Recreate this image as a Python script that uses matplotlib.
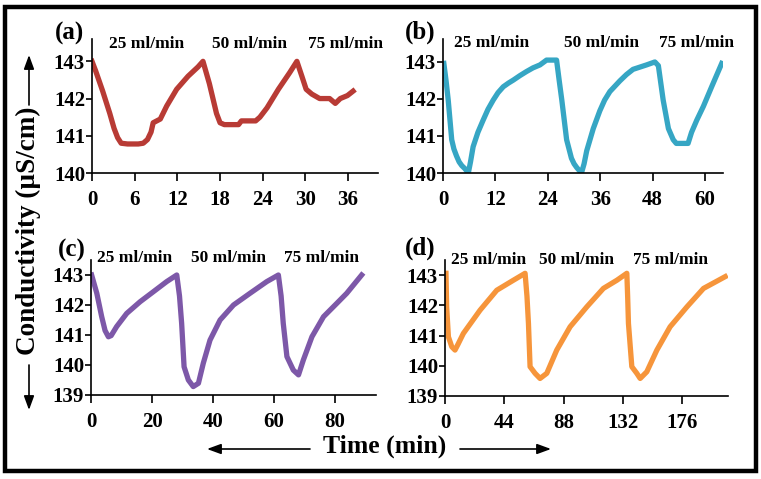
import numpy as np
import matplotlib
matplotlib.use('Agg')
import matplotlib.pyplot as plt
from matplotlib.patches import Rectangle, FancyArrowPatch

plt.rcParams['font.family'] = ['Liberation Serif', 'DejaVu Serif']
plt.rcParams['font.weight'] = 'bold'

flow_labels = ['25 ml/min', '50 ml/min', '75 ml/min']

# (a)
t_a = [0, 0.5, 1.5, 2.5, 3.1, 3.6, 4.1, 5.0, 6.5, 7.2, 7.8, 8.3, 8.6, 9.6, 10.5, 11.9,
       13.5, 14.9, 15.6, 16.5, 17.5, 18.0, 18.6, 20.6, 21.0, 23.0, 23.6, 24.6, 26.2,
       27.8, 28.8, 29.5, 30.1, 30.9, 32.0, 33.4, 34.2, 34.9, 35.9, 36.7]
v_a = [143.0, 142.75, 142.2, 141.6, 141.2, 140.95, 140.8, 140.78, 140.78, 140.8, 140.9,
       141.1, 141.35, 141.45, 141.8, 142.25, 142.6, 142.85, 143.0, 142.4, 141.6, 141.35,
       141.3, 141.3, 141.4, 141.4, 141.5, 141.75, 142.25, 142.7, 143.0, 142.6, 142.25,
       142.12, 142.0, 142.0, 141.87, 142.0, 142.08, 142.2]

# (b)
t_b = [0.2, 0.7, 1.2, 2.0, 2.5, 3.1, 3.7, 4.3, 5.0, 5.8, 6.3, 6.9, 8.0, 9.2, 10.3, 11.5,
       12.6, 13.8, 15.0, 16.1, 17.6, 19.1, 20.6, 22.2, 23.7, 26.0, 26.6, 27.2, 28.3,
       29.4, 30.0, 30.6, 31.7, 32.3, 32.9, 34.4, 35.9, 37.0, 38.2, 40.5, 42.0, 43.5,
       46.6, 48.5, 49.3, 50.4, 51.6, 52.7, 53.4, 56.1, 56.9, 58.1, 59.6, 61.5, 63.8]
v_b = [142.96, 142.5, 141.97, 140.9, 140.65, 140.46, 140.3, 140.2, 140.12, 140.0, 140.3,
       140.71, 141.1, 141.43, 141.72, 141.97, 142.17, 142.33, 142.43, 142.51, 142.63,
       142.74, 142.84, 142.92, 143.05, 143.05, 142.5, 141.97, 140.9, 140.4, 140.25,
       140.15, 140.0, 140.25, 140.6, 141.2, 141.68, 141.97, 142.2, 142.49, 142.66, 142.8,
       142.92, 143.0, 142.9, 141.97, 141.2, 140.9, 140.8, 140.8, 141.1, 141.43, 141.8,
       142.33, 142.96]

# (c)
t_c = [0.2, 1.9, 3.5, 4.6, 5.7, 6.6, 8.4, 11.7, 16.1, 20.4, 24.8, 28.1, 29.0, 29.7,
       30.5, 31.9, 33.5, 35.2, 36.8, 39.0, 42.3, 46.7, 52.1, 57.6, 61.4, 62.3, 63.0,
       64.2, 66.3, 68.0, 69.6, 72.4, 76.2, 80.6, 83.8, 88.7]
v_c = [143.0, 142.39, 141.61, 141.15, 140.94, 140.98, 141.28, 141.72, 142.11, 142.44,
       142.78, 143.0, 142.3, 141.39, 139.94, 139.5, 139.28, 139.39, 140.06, 140.83, 141.5,
       142.0, 142.39, 142.78, 143.0, 142.3, 141.39, 140.28, 139.83, 139.67, 140.17,
       140.94, 141.61, 142.06, 142.39, 143.0]

# (d)
t_d = [0.7, 1.2, 2.5, 5.0, 7.4, 9.5, 13.6, 26.0, 38.4, 50.7, 59.4, 60.8, 61.9, 63.1,
       66.8, 70.5, 75.5, 82.9, 92.8, 105.2, 117.5, 127.5, 134.9, 135.5, 136.1, 138.6,
       142.3, 144.8, 149.7, 157.2, 167.0, 179.5, 191.8, 207.9]
v_d = [143.06, 141.95, 140.96, 140.63, 140.52, 140.7, 141.07, 141.84, 142.5, 142.83,
       143.06, 142.3, 141.4, 139.97, 139.75, 139.58, 139.75, 140.52, 141.29, 141.95,
       142.56, 142.83, 143.06, 142.3, 141.4, 139.97, 139.75, 139.58, 139.8, 140.52,
       141.29, 141.95, 142.56, 142.95]

panels = [
    dict(tag='(a)', t=t_a, v=v_a, color='#b83b35', rect=[0.1209, 0.6388, 0.3758, 0.2798],
         xlim=(0, 40.2), ylim=(140, 143.6), xticks=np.arange(0, 37, 6), yticks=[140, 141, 142, 143],
         lx=[0.192, 0.552, 0.885], ly=0.963, tagpos=(70, 33)),
    dict(tag='(b)', t=t_b, v=v_b, color='#36a6c4', rect=[0.5821, 0.6388, 0.368, 0.2798],
         xlim=(0, 64.1), ylim=(140, 143.62), xticks=np.arange(0, 61, 12), yticks=[140, 141, 142, 143],
         lx=[0.174, 0.567, 0.906], ly=0.97, tagpos=(420, 32)),
    dict(tag='(c)', t=t_c, v=v_c, color='#7d58a8', rect=[0.1196, 0.1754, 0.3745, 0.2818],
         xlim=(0, 93.4), ylim=(139, 143.5), xticks=np.arange(0, 81, 20), yticks=[139, 140, 141, 142, 143],
         lx=[0.154, 0.482, 0.81], ly=1.013, tagpos=(72, 250)),
    dict(tag='(d)', t=t_d, v=v_d, color='#f6953b', rect=[0.5848, 0.1733, 0.3719, 0.2839],
         xlim=(0, 210), ylim=(139, 143.5), xticks=np.arange(0, 177, 44), yticks=[139, 140, 141, 142, 143],
         lx=[0.153, 0.465, 0.795], ly=1.0, tagpos=(420, 248)),
]

W, H = 761, 479
fig = plt.figure(figsize=(W / 100, H / 100), dpi=100)

for p in panels:
    ax = fig.add_axes(p['rect'])
    ax.plot(p['t'], p['v'], color=p['color'], lw=3.8, solid_joinstyle='round')
    ax.set_xlim(*p['xlim'])
    ax.set_ylim(*p['ylim'])
    ax.set_xticks(p['xticks'])
    ax.set_yticks(p['yticks'])
    for s in ['top', 'right']:
        ax.spines[s].set_visible(False)
    for s in ['left', 'bottom']:
        ax.spines[s].set_linewidth(1.2)
    ax.tick_params(axis='x', length=6, width=1.2, pad=6, labelsize=15)
    ax.tick_params(axis='y', length=4, width=1.2, pad=1, labelsize=15)
    for lab in ax.get_xticklabels() + ax.get_yticklabels():
        lab.set_fontweight('bold')
    for txt, x in zip(flow_labels, p['lx']):
        ax.text(x, p['ly'], txt, transform=ax.transAxes, ha='center', va='center',
                fontsize=12.5, fontweight='bold', clip_on=False)
    fig.text(p['tagpos'][0] / W, 1 - p['tagpos'][1] / H, p['tag'], ha='center', va='center',
             fontsize=18, fontweight='bold')

# axis titles with arrows
fig.text(28 / W, 1 - 231 / H, 'Conductivity (µS/cm)', rotation=90, ha='center', va='center',
         fontsize=19.5, fontweight='bold')
fig.text(385 / W, 1 - 446 / H, 'Time (min)', ha='center', va='center',
         fontsize=18.5, fontweight='bold')

arrow = dict(arrowstyle='-|>,head_length=0.6,head_width=0.22', color='black', lw=1.2,
             mutation_scale=14, shrinkA=0, shrinkB=0)
for start, end in [((29, 105), (29, 55)), ((29, 365), (29, 410)),
                   ((310, 449), (207, 449)), ((460, 449), (551, 449))]:
    fig.add_artist(FancyArrowPatch((start[0] / W, 1 - start[1] / H), (end[0] / W, 1 - end[1] / H),
                                   transform=fig.transFigure, **arrow))

# outer frame
fig.add_artist(Rectangle((5 / W, 1 - 471 / H), 750.5 / W, 464.5 / H, transform=fig.transFigure,
                         fill=False, edgecolor='black', lw=3.2))

fig.savefig('out.png', dpi=100)
